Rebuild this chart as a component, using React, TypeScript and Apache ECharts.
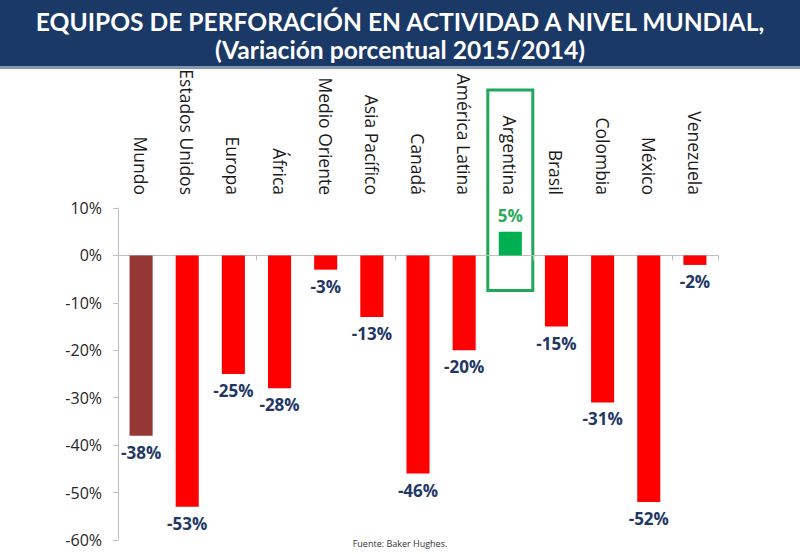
import React, { useEffect, useRef } from "react";
import * as echarts from "echarts";

const categories = [
  "Mundo",
  "Estados Unidos",
  "Europa",
  "África",
  "Medio Oriente",
  "Asia Pacífico",
  "Canadá",
  "América Latina",
  "Argentina",
  "Brasil",
  "Colombia",
  "México",
  "Venezuela",
];
const values = [-38, -53, -25, -28, -3, -13, -46, -20, 5, -15, -31, -52, -2];
const yTicks = { min: -60, max: 10, interval: 10 };
const titleLines = ["EQUIPOS DE PERFORACIÓN EN ACTIVIDAD A NIVEL MUNDIAL,", "(Variación porcentual 2015/2014)"];
const sourceText = "Fuente: Baker Hughes.";
const highlight = "Argentina";

export default function App() {
  const ref = useRef<HTMLDivElement>(null);
  useEffect(() => {
    document.body.style.margin = "0";
    const chart = echarts.init(ref.current!, null, { renderer: "svg" });
    const font = "'Open Sans', sans-serif";
    const colorFor = (name: string, v: number, i: number) =>
      i === 0 ? "#953735" : v > 0 ? "#00B050" : "#FF0000";
    const option: any = {
      animation: false,
      backgroundColor: "#ffffff",
      title: {
        text: titleLines.join("\n"),
        left: "center",
        top: 2,
        textStyle: {
          color: "#ffffff",
          fontFamily: "Lato, sans-serif",
          fontWeight: "bold",
          fontSize: 24.6,
          lineHeight: 28,
        },
      },
      grid: { left: 118, right: 82, top: 208, bottom: 14, containLabel: false },
      xAxis: [
        {
          type: "category",
          data: categories,
          position: "bottom",
          axisLine: { onZero: true, lineStyle: { color: "#BFBFBF", width: 1 } },
          axisTick: { show: true, length: 5, lineStyle: { color: "#BFBFBF" } },
          axisLabel: { show: false },
        },
        {
          type: "category",
          data: categories,
          position: "top",
          axisLine: { show: false },
          axisTick: { show: false },
          axisLabel: {
            rotate: 90,
            margin: 13,
            interval: 0,
            color: "#1a1a1a",
            fontSize: 17.5,
            fontFamily: font,
          },
        },
      ],
      yAxis: {
        type: "value",
        min: yTicks.min,
        max: yTicks.max,
        interval: yTicks.interval,
        axisLine: { show: true, lineStyle: { color: "#BFBFBF" } },
        axisTick: { show: true, length: 5, lineStyle: { color: "#BFBFBF" } },
        splitLine: { show: false },
        axisLabel: {
          formatter: (v: number) => `${v}%`,
          color: "#262626",
          fontSize: 16,
          fontFamily: font,
          margin: 16,
        },
      },
      series: [
        {
          type: "bar",
          barWidth: "50%",
          data: values.map((v, i) => ({
            value: v,
            itemStyle: { color: colorFor(categories[i], v, i) },
            label: {
              show: true,
              position: v >= 0 ? "top" : "bottom",
              distance: 8,
              formatter: `${v}%`,
              color: v >= 0 ? "#2DAA5C" : "#1F3864",
              fontWeight: "bold",
              fontSize: 17,
              fontFamily: font,
            },
          })),
        },
      ],
    };
    chart.setOption(option);
    const idx = categories.indexOf(highlight);
    const cx = chart.convertToPixel({ xAxisIndex: 0 }, categories[idx]) as number;
    const yBottom = chart.convertToPixel({ yAxisIndex: 0 }, -7.4) as number;
    chart.setOption({
      graphic: [
        { type: "rect", z: -10, shape: { x: 0, y: 0, width: 800, height: 66 }, style: { fill: "#1B3966" } },
        { type: "rect", z: -10, shape: { x: 0, y: 66, width: 800, height: 3 }, style: { fill: "#8497B0" } },
        {
          type: "rect",
          shape: { x: cx - 22.5, y: 90, width: 45, height: yBottom - 90 },
          style: { fill: "none", stroke: "#1FA85A", lineWidth: 3 },
        },
        {
          type: "text",
          x: 400,
          y: 543,
          style: {
            text: sourceText,
            fill: "#333",
            fontSize: 9,
            fontFamily: font,
            textAlign: "center",
            textVerticalAlign: "middle",
          },
        },
      ],
    });
    return () => chart.dispose();
  }, []);
  return <div ref={ref} style={{ width: 800, height: 554 }} />;
}
